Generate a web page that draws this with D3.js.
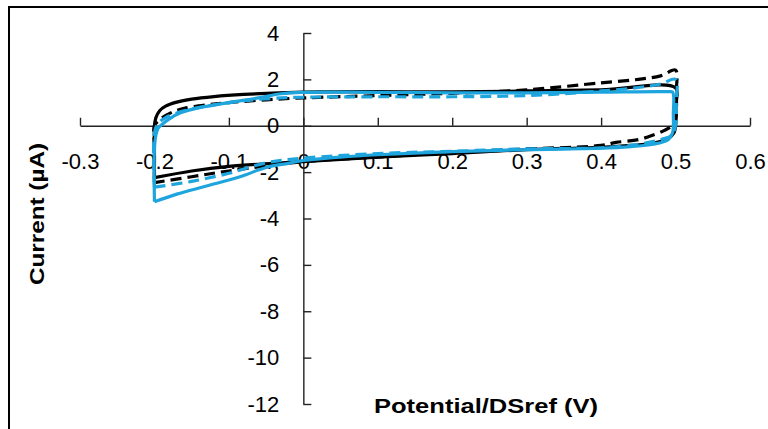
<!DOCTYPE html>
<html><head><meta charset="utf-8">
<script src="https://cdn.jsdelivr.net/npm/d3@7"></script>
<style>html,body{margin:0;padding:0;background:#fff;} svg{display:block;}</style>
</head><body><svg id="c" width="768" height="429"></svg>
<script>
// ---- data ----
const xTicks = [-0.3,-0.2,-0.1,0,0.1,0.2,0.3,0.4,0.5,0.6];
const yTicks = [4,2,0,-2,-4,-6,-8,-10,-12];
const xTitle = "Potential/DSref (V)";
const yTitle = "Current (µA)";

const blackSolidV = [-0.2,-0.2,-0.2,-0.198,-0.193,-0.185,-0.17,-0.15,-0.12,-0.08,0,0.1,0.2,0.3,0.4,0.5,0.501,0.5,0.498,0.49,0.47,0.44,0.4,0.3,0.2,0.1,0,-0.1,-0.15,-0.2];
const blackSolidI = [-2.24,-1.0,0.0,0.35,0.65,0.85,1.02,1.15,1.26,1.35,1.45,1.47,1.46,1.5,1.55,1.64,1.0,0.0,-0.3,-0.55,-0.75,-0.85,-0.93,-1.03,-1.2,-1.35,-1.55,-1.75,-1.95,-2.24];

const blackDashV = [-0.2,-0.2,-0.2,-0.195,-0.19,-0.175,-0.16,-0.13,-0.1,-0.05,0,0.1,0.2,0.3,0.4,0.45,0.48,0.5,0.501,0.5,0.495,0.485,0.47,0.45,0.42,0.4,0.3,0.2,0.1,0,-0.1,-0.15,-0.2];
const blackDashI = [-2.45,-1.0,0.0,0.2,0.34,0.6,0.75,0.9,1.0,1.12,1.2,1.3,1.4,1.55,1.85,2.0,2.15,2.4,1.5,0.3,0.0,-0.2,-0.4,-0.6,-0.72,-0.85,-1.0,-1.15,-1.35,-1.55,-1.95,-2.2,-2.45];

const blueSolidV = [-0.2,-0.2,-0.198,-0.195,-0.19,-0.18,-0.165,-0.14,-0.1,-0.06,-0.03,0,0.05,0.1,0.2,0.3,0.4,0.49,0.496,0.497,0.496,0.49,0.47,0.44,0.4,0.3,0.2,0.1,0.05,0,-0.02,-0.05,-0.085,-0.13,-0.17,-0.2];
const blueSolidI = [-3.28,-1.0,-0.4,-0.1,0.05,0.3,0.56,0.78,1.0,1.2,1.38,1.44,1.45,1.44,1.42,1.42,1.45,1.47,1.45,0.5,-0.3,-0.6,-0.8,-0.9,-0.97,-1.03,-1.12,-1.25,-1.35,-1.5,-1.62,-1.8,-2.2,-2.6,-2.95,-3.28];

const blueDashV = [-0.2,-0.2,-0.195,-0.185,-0.17,-0.15,-0.12,-0.08,-0.03,0,0.1,0.2,0.3,0.4,0.45,0.48,0.5,0.501,0.5,0.495,0.48,0.45,0.4,0.3,0.2,0.1,0,-0.05,-0.1,-0.15,-0.2];
const blueDashI = [-2.65,-0.3,0.1,0.35,0.55,0.72,0.9,1.08,1.2,1.23,1.25,1.25,1.3,1.5,1.65,1.8,2.0,1.0,0.0,-0.4,-0.6,-0.8,-0.95,-1.0,-1.1,-1.2,-1.4,-1.6,-2.05,-2.4,-2.65];

const BLUE = "#1ea5de";
const seriesList = [
  {v: blackSolidV, i: blackSolidI, color: "#000", dash: null},
  {v: blackDashV, i: blackDashI, color: "#000", dash: "11,6"},
  {v: blueSolidV, i: blueSolidI, color: BLUE, dash: null},
  {v: blueDashV, i: blueDashI, color: BLUE, dash: "11,6"}
];

// ---- chart ----
const svg = d3.select("#c");
const x = d3.scaleLinear().domain([-0.3, 0.6]).range([80, 750]);
const y = d3.scaleLinear().domain([-12, 4]).range([404, 33]);
const font = "'Liberation Sans', Arial, sans-serif";

svg.append("rect").attr("x", 9).attr("y", 7).attr("width", 900).attr("height", 600)
  .attr("fill", "none").attr("stroke", "#000").attr("stroke-width", 2);

const xAxis = d3.axisBottom(x).tickValues(xTicks).tickSize(-8).tickSizeOuter(0).tickPadding(28)
  .tickFormat(d => d3.format("")(+d.toFixed(1)).replace("−", "-"));
const gx = svg.append("g").attr("transform", `translate(0,${y(0)})`).call(xAxis);

const yAxis = d3.axisLeft(y).tickValues(yTicks).tickSize(-8).tickSizeOuter(0).tickPadding(24)
  .tickFormat(d => String(d));
const gy = svg.append("g").attr("transform", `translate(${x(0)},0)`).call(yAxis);

[gx, gy].forEach(g => {
  g.selectAll("path.domain").attr("stroke", "#222").attr("stroke-width", 1.4);
  g.selectAll(".tick line").attr("stroke", "#222").attr("stroke-width", 1.4);
  g.selectAll(".tick text").attr("font-family", font).attr("font-size", 22).attr("fill", "#000");
});

const line = d3.line().x(d => x(d[0])).y(d => y(d[1])).curve(d3.curveCatmullRom.alpha(0.5));
seriesList.forEach(s => {
  const pts = s.v.map((v, k) => [v, s.i[k]]);
  svg.append("path").datum(pts).attr("d", line)
    .attr("fill", "none").attr("stroke", s.color).attr("stroke-width", 3.2)
    .attr("stroke-dasharray", s.dash).attr("stroke-linejoin", "round");
});

svg.append("text").attr("x", 486).attr("y", 413).attr("text-anchor", "middle")
  .attr("font-family", font).attr("font-weight", "bold").attr("font-size", 20)
  .attr("textLength", 224).attr("lengthAdjust", "spacingAndGlyphs")
  .text(xTitle);
svg.append("text").attr("transform", "translate(44,214) rotate(-90)").attr("text-anchor", "middle")
  .attr("font-family", font).attr("font-weight", "bold").attr("font-size", 20)
  .attr("textLength", 142).attr("lengthAdjust", "spacingAndGlyphs")
  .text(yTitle);
</script></body></html>
